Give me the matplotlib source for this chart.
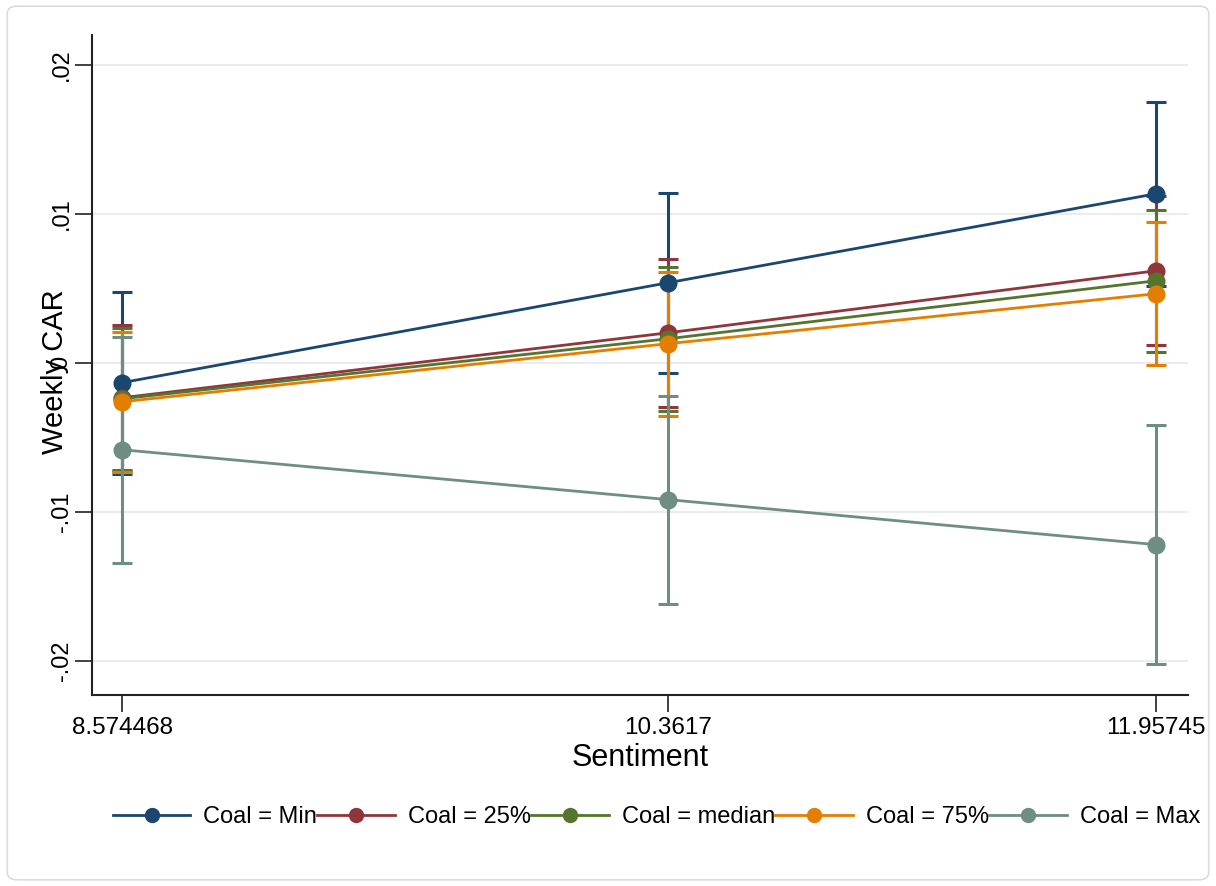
import numpy as np
import matplotlib
matplotlib.use('Agg')
import matplotlib.pyplot as plt
from matplotlib.patches import FancyBboxPatch

plt.rcParams['font.family'] = ['Liberation Sans', 'DejaVu Sans']

# Margins of Weekly CAR over Sentiment, at five levels of Coal
sentiment = [8.574468, 10.3617, 11.95745]
sentiment_labels = ['8.574468', '10.3617', '11.95745']
series_labels = ['Coal = Min', 'Coal = 25%', 'Coal = median', 'Coal = 75%', 'Coal = Max']

est_min = [-0.00134, 0.00537, 0.01134]
ci_min = [0.00611, 0.00604, 0.00617]
est_p25 = [-0.00235, 0.00201, 0.00617]
ci_p25 = [0.00490, 0.00497, 0.00500]
est_med = [-0.00242, 0.00161, 0.00550]
ci_med = [0.00477, 0.00483, 0.00477]
est_p75 = [-0.00262, 0.00128, 0.00463]
ci_p75 = [0.00470, 0.00483, 0.00480]
est_max = [-0.00584, -0.00919, -0.01221]
ci_max = [0.00758, 0.00698, 0.00800]

y_ticks = [-0.02, -0.01, 0.0, 0.01, 0.02]
y_tick_labels = ['-.02', '-.01', '0', '.01', '.02']

colors = ['#1a476f', '#90353b', '#55752f', '#e37e00', '#6e8e84']
estimates = [est_min, est_p25, est_med, est_p75, est_max]
halfwidths = [ci_min, ci_p25, ci_med, ci_p75, ci_max]

fig = plt.figure(figsize=(12.16, 8.86), dpi=100)
ax = fig.add_axes([0.0757, 0.2156, 0.9013, 0.745])

# confidence intervals first, then connected estimates on top
for est, hw, c in zip(estimates, halfwidths, colors):
    ax.errorbar(sentiment, est, yerr=hw, fmt='none', ecolor=c,
                elinewidth=2.2, capsize=7, capthick=2.2, zorder=2)

handles = []
for est, c, lab in zip(estimates, colors, series_labels):
    h, = ax.plot(sentiment, est, color=c, lw=2, marker='o', ms=13,
                 markeredgewidth=0, label=lab, zorder=3)
    handles.append(h)

ax.set_xlim(8.4763, 12.062)
ax.set_ylim(-0.0223, 0.0220)
ax.set_xticks(sentiment)
ax.set_xticklabels(sentiment_labels)
ax.set_yticks(y_ticks)
ax.set_yticklabels(y_tick_labels)
ax.yaxis.grid(True, color='#e9edf0', lw=1.5, zorder=0)
ax.set_axisbelow(True)

for side in ['top', 'right']:
    ax.spines[side].set_visible(False)
for side in ['left', 'bottom']:
    ax.spines[side].set_linewidth(1.5)
    ax.spines[side].set_color('#222222')

ax.tick_params(axis='both', length=12, width=1.3, color='#333333')
ax.tick_params(axis='x', pad=4, labelsize=17.5)
ax.tick_params(axis='y', pad=2, labelsize=17)
plt.setp(ax.get_yticklabels(), rotation=90, va='center')

ax.set_xlabel('Sentiment', fontsize=22)
ax.xaxis.set_label_coords(0.5, -0.072)
ax.set_ylabel('Weekly CAR', fontsize=21)
ax.yaxis.label.set_va('center')
ax.yaxis.set_label_coords(-0.034, 0.49)

fig.legend(handles=handles, loc='center', bbox_to_anchor=(0.54, 0.078),
           ncol=5, frameon=False, fontsize=17, handlelength=3.3,
           handletextpad=0.55, columnspacing=0.0, numpoints=1,
           borderpad=0, markerscale=0.85)

# outer frame of the graph region
fig.add_artist(FancyBboxPatch((0.006, 0.007), 0.988, 0.986,
                              boxstyle='round,pad=0,rounding_size=0.008',
                              transform=fig.transFigure, fill=False,
                              edgecolor='#dcdcdc', lw=1.2))

fig.savefig('out.png', dpi=100)
